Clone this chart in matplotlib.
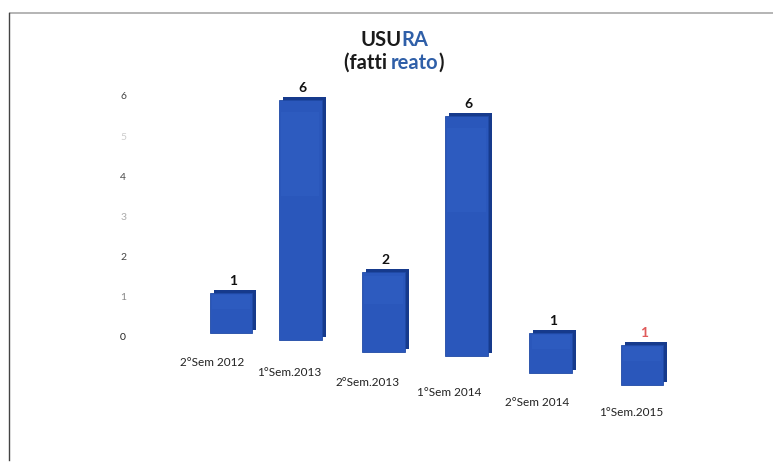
import matplotlib
matplotlib.use("Agg")
import matplotlib.pyplot as plt
from matplotlib.transforms import ScaledTranslation
from matplotlib.lines import Line2D

# ---- data ----
categories = ["2°Sem 2012", "1°Sem.2013", "2°Sem.2013", "1°Sem 2014", "2°Sem 2014", "1°Sem.2015"]
values = [1, 6, 2, 6, 1, 1]
yticks = [0, 1, 2, 3, 4, 5, 6]

# ---- style (perspective shifts in pixels, not data) ----
bar_dx = [0, -13, -12, -11, -9, 0]
bar_dy = [3, -4, -16, -20, -37, -49]
lab_dx = [-19, -11, -16, -17, -14, -11]
lab_dy = [-26, -36, -46, -56, -66, -76]
label_colors = ["#111111"] * 5 + ["#e05a5a"]
tick_colors = ["#222222", "#888888", "#444444", "#aaaaaa", "#444444", "#cccccc", "#444444"]

DPI = 100
fig = plt.figure(figsize=(7.73, 4.65), dpi=DPI)
fig.patch.set_facecolor("white")

ax = fig.add_axes([140 / 773, 35 / 465, 560 / 773, 370 / 465])
ax.set_xlim(-1.107, 5.705)
ax.set_ylim(-2.35, 6.9)
for s in ax.spines.values():
    s.set_visible(False)
ax.set_facecolor("none")

def off(dx, dy):
    return ScaledTranslation(dx / DPI, dy / DPI, fig.dpi_scale_trans)

x = list(range(len(values)))
w = 0.52
for i, (xi, v) in enumerate(zip(x, values)):
    t = ax.transData + off(bar_dx[i], bar_dy[i])
    # depth (back face)
    ax.bar([xi], [v], width=w, color="#163a8c", transform=t + off(4, 3), zorder=2)
    # front face
    ax.bar([xi], [v], width=w, color="#2a57bb", edgecolor="#1f4aa6", linewidth=0.6,
           transform=t, zorder=3)
    # highlight band on front
    ax.bar([xi], [v * 0.35], bottom=[v * 0.6], width=w * 0.9, color="#3563c7", alpha=0.35,
           transform=t, zorder=4)
    ax.text(xi, v, str(v), transform=t + off(2, 6), ha="center", va="bottom",
            fontsize=10, fontweight="bold", color=label_colors[i], family="Lato", zorder=5)
    ax.text(xi, 0, categories[i],
            transform=ax.transData + off(bar_dx[i] + lab_dx[i], lab_dy[i]),
            ha="center", va="center", fontsize=8.5, color="#222222", family="Lato")

ax.set_xticks([])
ax.set_yticks(yticks)
ax.set_yticklabels([str(t) for t in yticks], fontsize=7.5, family="Lato")
ax.tick_params(axis="y", length=0, pad=10)
for lab, c in zip(ax.get_yticklabels(), tick_colors):
    lab.set_color(c)

# ---- title with two colours, pieces placed side by side ----
blue = "#2f5fa8"
dark = "#1a1a1a"
fig.canvas.draw()
r = fig.canvas.get_renderer()

def width(s, size):
    t = fig.text(0, 0, s, fontsize=size, fontweight="bold", family="Lato")
    wd = t.get_window_extent(renderer=r).width
    t.remove()
    return wd

def multi_color(parts, y, size):
    full = "".join(s for s, _ in parts)
    x0 = round(395 - width(full, size) / 2)
    prefix = ""
    for s, c in parts:
        if prefix:
            xs = x0 + width(prefix + s[0], size) - width(s[0], size) - 1.3
        else:
            xs = x0
        fig.text(xs / 773, y, s, fontsize=size, fontweight="bold", family="Lato",
                 ha="left", va="center", color=c)
        prefix += s

multi_color([("USU", dark), ("RA", blue)], 1 - 40 / 465, 14.5)
multi_color([("(fatti ", dark), ("reato", blue), (")", dark)], 1 - 63 / 465, 14.5)

# ---- frame lines of the scanned box ----
fig.add_artist(Line2D([10 / 773, 1.0], [1 - 13 / 465] * 2, color="#a8a8a8", linewidth=1.2))
fig.add_artist(Line2D([9 / 773] * 2, [1 - 13 / 465, 1 - 460 / 465], color="#444444", linewidth=1.0))

fig.savefig("out.png", dpi=DPI)
